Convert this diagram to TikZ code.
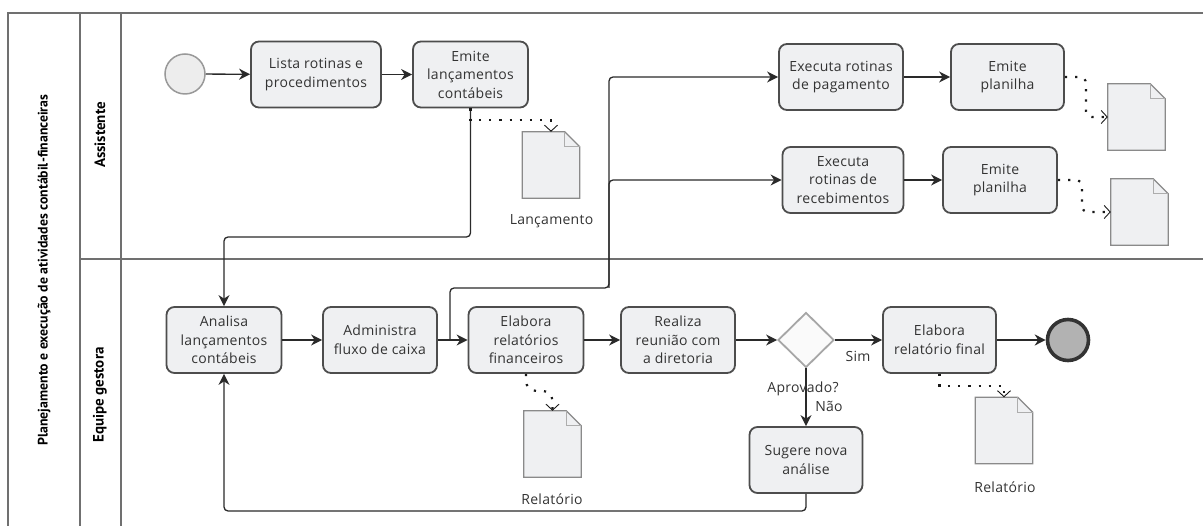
\documentclass[tikz,border=0pt]{standalone}
\usepackage{fontspec}
\setmainfont{Open Sans}[LetterSpace=2.0]
\newfontfamily\lanefont{PT Sans}
\usetikzlibrary{arrows.meta,shapes.geometric,calc}

\definecolor{taskfill}{HTML}{EFF0F2}
\definecolor{taskline}{HTML}{4D4D4D}
\definecolor{flowline}{HTML}{2A2A2A}
\definecolor{poolline}{HTML}{707070}
\definecolor{docline}{HTML}{8A8A8A}
\definecolor{txt}{HTML}{333333}

\tikzset{
  every node/.style={text=txt, font=\fontsize{14}{18.5}\selectfont},
  task/.style={draw=taskline, line width=1.8pt, fill=taskfill, rounded corners=8pt,
    minimum width=114pt, minimum height=66pt, align=center, inner sep=1pt},
  flow/.style={draw=flowline, line width=1.3pt,
    -{Stealth[length=11pt,width=11pt,inset=3.5pt]}},
  assoc/.style={draw=black!90, line width=2.2pt, dash pattern=on 2.2pt off 8pt,
    -{Straight Barb[length=6pt,width=13pt,line width=0.9pt]}},
  dataobj/.style={minimum width=57pt, minimum height=66pt, inner sep=0pt},
  docedge/.style={draw=docline, line width=1.2pt, fill=taskfill, line join=miter},
  docfold/.style={draw=docline!70, line width=0.8pt},
  lane/.style={draw=poolline, line width=1.2pt},
  lanelabel/.style={rotate=90, font=\lanefont\bfseries\fontsize{15}{18}\selectfont, text=black},
  poollabel/.style={rotate=90, font=\lanefont\bfseries\fontsize{13.8}{16}\selectfont, text=black},
  startevent/.style={circle, minimum size=40pt, inner sep=0pt, draw=black!40,
    line width=1.5pt, fill=black!7},
  endevent/.style={circle, minimum size=41pt, inner sep=0pt, draw=black!80,
    line width=3.6pt, fill=black!30},
  gateway/.style={diamond, minimum width=56pt, minimum height=55pt, inner sep=0pt,
    draw=black!35, line width=1.8pt, fill=black!2},
}

% data object outline with folded corner
\newcommand\drawdataobj[1]{%
  \draw[docedge] (#1.north west) -- ([xshift=-15pt]#1.north east)
    -- ([yshift=-15pt]#1.north east) -- (#1.south east) -- (#1.south west) -- cycle;
  \draw[docfold] ([xshift=-15pt]#1.north east) |- ([yshift=-15pt]#1.north east);}

\begin{document}
\begin{tikzpicture}[x=1pt,y=-1pt]
\useasboundingbox (0,0) rectangle (1203,526);

% pool and lanes
\draw[lane] (8,526) -- (8,13) -- (1203,13);
\draw[lane] (80,13) -- (80,526);
\draw[lane] (121,13) -- (121,526);
\draw[lane] (80,259) -- (1203,259);
\node[poollabel] (pool) at (44,270) {Planejamento e execução de atividades contábil-financeiras};
\node[lanelabel] (laneA) at (100,135) {Assistente};
\node[lanelabel] (laneB) at (100,395) {Equipe gestora};

% Assistente lane
\node[startevent] (start) at (185,74) {};
\node[task, minimum width=130pt] (lista) at (316,74.5) {Lista rotinas e\\procedimentos};
\node[task, minimum width=115pt] (emiteL) at (470.5,74.5) {Emite\\lançamentos\\contábeis};
\node[task, minimum width=124pt] (execP) at (841,77) {Executa rotinas\\de pagamento};
\node[task, minimum width=113pt] (emiteP1) at (1007.5,77) {Emite\\planilha};
\node[task, minimum width=121pt] (execR) at (843,180) {Executa\\rotinas de\\recebimentos};
\node[task, minimum width=114pt] (emiteP2) at (1000,180) {Emite\\planilha};

\node[dataobj] (docL) at (551,165) {};
\node (docLlbl) at (551.5,221) {Lançamento};
\node[dataobj] (docP1) at (1136.5,117) {};
\node[dataobj] (docP2) at (1139.5,212) {};

% Equipe gestora lane
\node[task, minimum width=115pt] (analisa) at (224,340) {Analisa\\lançamentos\\contábeis};
\node[task] (admin) at (380,340) {Administra\\fluxo de caixa};
\node[task, minimum width=115pt] (elabFin) at (526,340) {Elabora\\relatórios\\financeiros};
\node[task] (realiza) at (678,340) {Realiza\\reunião com\\a diretoria};
\node[gateway] (gw) at (806,340) {};
\node[task, minimum width=113pt] (elabFinal) at (939.5,340) {Elabora\\relatório final};
\node[endevent] (endE) at (1068,340) {};
\node[task, minimum width=113pt] (sugere) at (806,460) {Sugere nova\\análise};

\node[dataobj] (docF) at (552.5,444) {};
\node (docFlbl) at (552,499) {Relatório};
\node[dataobj] (docFinal) at (1004,430.5) {};
\node (docFinallbl) at (1005,487) {Relatório};

\drawdataobj{docL}
\drawdataobj{docP1}
\drawdataobj{docP2}
\drawdataobj{docF}
\drawdataobj{docFinal}

% routing points
\coordinate (split) at (450,340);
\coordinate (bus) at (609,288);
\coordinate (dropY) at (0,237);
\coordinate (loopY) at (0,511);

% sequence flows
\draw[flow] (start) -- (lista);
\draw[flow] (lista) -- (emiteL);
\draw[flow, rounded corners=4pt] (emiteL.south) -- (emiteL.south |- dropY) -| (analisa.north);
\draw[flow] (analisa) -- (admin);
\draw[flow] (admin) -- (elabFin);
\draw[flow, rounded corners=4pt] (split) |- (bus) |- (execP.west);
\draw[flow, rounded corners=4pt] (bus) |- (execR.west);
\draw[flow] (execP) -- (emiteP1);
\draw[flow] (execR) -- (emiteP2);
\draw[flow] (elabFin) -- (realiza);
\draw[flow] (realiza) -- (gw);
\draw[flow] (gw) -- (elabFinal);
\draw[flow] (elabFinal) -- (endE);
\draw[flow] (gw) -- (sugere);
\draw[flow, rounded corners=4pt] (sugere.south) -- (sugere.south |- loopY) -| (analisa.south);

\node (sim) at (858,356) {Sim};
\node (aprov) at (803,389) {Aprovado?};
\node (nao) at (829,406) {Não};

% associations
\draw[assoc] (emiteL.south) -- ++(0,12) -| (docL.north);
\draw[assoc, rounded corners=10pt] (elabFin.south) -- ++(0,17) -| (docF.north);
\draw[assoc] (elabFinal.south) -- ++(0,12) -| (docFinal.north);
\draw[assoc, rounded corners=6pt] (emiteP1.east) -- ++(21,0) |- (docP1.west);
\draw[assoc, rounded corners=6pt] (emiteP2.east) -- ++(24,0) |- (docP2.west);
\end{tikzpicture}
\end{document}
